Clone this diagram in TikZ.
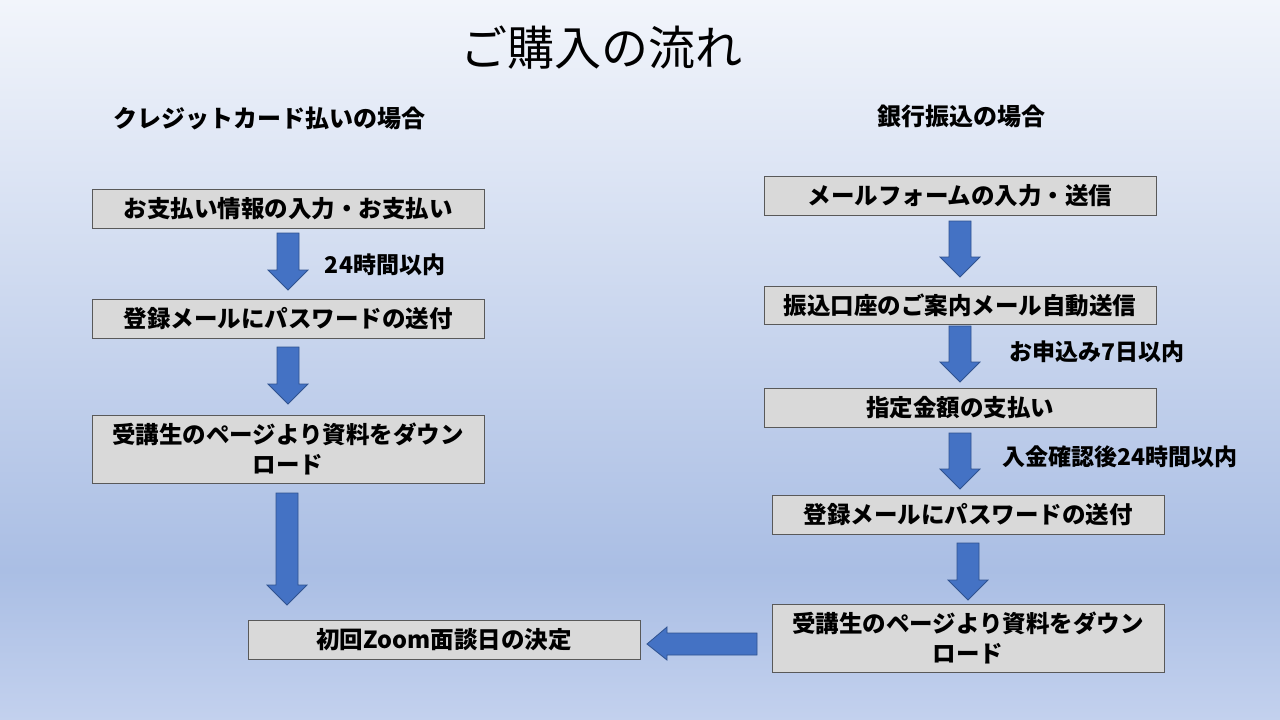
\documentclass[tikz,border=0pt]{standalone}
\usepackage{fontspec}
\setmainfont{Noto Sans CJK JP}
\begin{document}
\begin{tikzpicture}[x=1pt,y=-1pt,
  box/.style={draw=black!65,fill=black!15,line width=0.8pt,align=center,font=\fontsize{23.5}{30}\selectfont\bfseries,inner sep=0pt},
  lbl/.style={font=\fontsize{23}{28}\selectfont\bfseries},
  blk/.style={fill=blue1,draw=blue2,line width=0.8pt}]
\definecolor{blue1}{HTML}{4472C4}
\definecolor{blue2}{HTML}{2F528F}
\definecolor{bgt}{HTML}{F2F5FB}
\definecolor{bgm}{HTML}{AABEE4}
\definecolor{bgb}{HTML}{C3D1EE}
\useasboundingbox (0,0) rectangle (1280,720);
\shade[top color=bgt,bottom color=bgm] (0,0) rectangle (1280,570);
\shade[top color=bgm,bottom color=bgb] (0,570) rectangle (1280,720);
\newcommand\dnarrow[3]{\draw[blk] (#1-11,#2) -- (#1+11,#2) -- (#1+11,#3-20) -- (#1+20,#3-20) -- (#1,#3) -- (#1-20,#3-20) -- (#1-11,#3-20) -- cycle;}
\node[font=\fontsize{47}{56}\selectfont] (title) at (601,48) {ご購入の流れ};
\node[lbl,font=\fontsize{24}{28}\selectfont\bfseries] (h1) at (269,118) {クレジットカード払いの場合};
\node[lbl,font=\fontsize{24}{28}\selectfont\bfseries] (h2) at (961,116) {銀行振込の場合};
% left
\node[box,minimum width=392pt,minimum height=39pt] (l1) at (288,208.5) {お支払い情報の入力・お支払い};
\node[box,minimum width=392pt,minimum height=39pt] (l2) at (288,318.5) {登録メールにパスワードの送付};
\node[box,minimum width=392pt,minimum height=68pt] (l3) at (288,449) {受講生のページより資料をダウン\\ロード};
\node[box,minimum width=392pt,minimum height=39pt] (l4) at (444,639.5) {初回Zoom面談日の決定};
\dnarrow{288}{233}{290}
\dnarrow{288}{347}{404}
\dnarrow{287}{493}{605}
\node[lbl] (t1) at (385,265) {24時間以内};
% right
\node[box,minimum width=392pt,minimum height=39pt] (r1) at (960,195.5) {メールフォームの入力・送信};
\node[box,minimum width=392pt,minimum height=38pt] (r2) at (960,305) {振込口座のご案内メール自動送信};
\node[box,minimum width=392pt,minimum height=39pt] (r3) at (960,407.5) {指定金額の支払い};
\node[box,minimum width=392pt,minimum height=39pt] (r4) at (968,514.5) {登録メールにパスワードの送付};
\node[box,minimum width=392pt,minimum height=68pt] (r5) at (968,638) {受講生のページより資料をダウン\\ロード};
\dnarrow{960}{221}{277}
\dnarrow{960}{326}{382}
\dnarrow{960}{433}{489}
\dnarrow{968}{543}{600}
\node[lbl] (t2) at (1097,352) {お申込み7日以内};
\node[lbl] (t3) at (1120,457) {入金確認後24時間以内};
\draw[blk] (757,633) -- (757,655) -- (667,655) -- (667,660) -- (647,644) -- (667,627) -- (667,633) -- cycle;
\end{tikzpicture}
\end{document}
